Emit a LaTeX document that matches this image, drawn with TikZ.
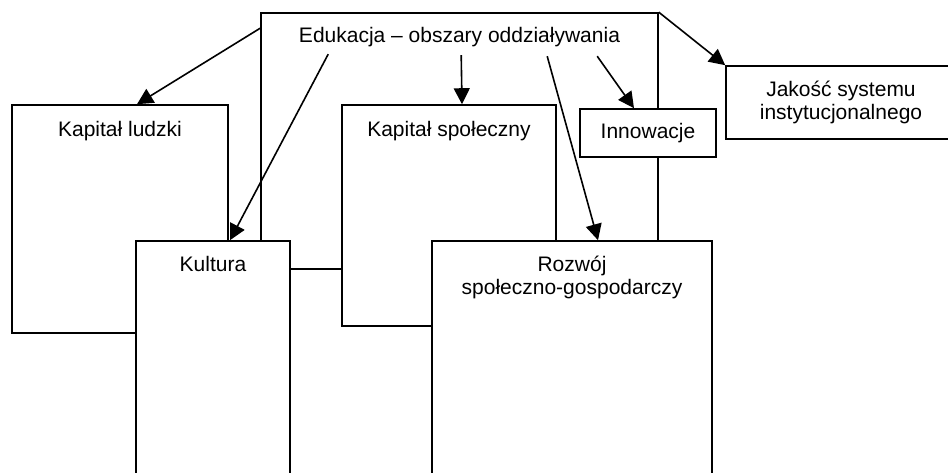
\documentclass[tikz,border=0pt]{standalone}
\usepackage{fontspec}
\setmainfont{Liberation Sans}
\usetikzlibrary{arrows.meta,calc}

\begin{document}
\begin{tikzpicture}[x=1pt,y=-1pt,
  box/.style={draw,line width=1.6pt,fill=white,inner sep=0pt,align=center},
  txt/.style={inner sep=0pt,anchor=north,align=center},
  pil/.style={line width=1.6pt,-{Triangle[length=16pt,width=16pt]}},
  font=\fontsize{21}{23}\selectfont]
  \clip (0,0) rectangle (948,472);
  \node[box,minimum width=397pt,minimum height=256pt] (edu) at (459.5,141) {};
  \node[box,minimum width=216pt,minimum height=228pt] (kl) at (120,219) {};
  \node[box,minimum width=214pt,minimum height=221pt] (ks) at (449,215.5) {};
  \node[box,minimum width=136pt,minimum height=48pt] (inn) at (648,133) {Innowacje};
  \node[box,minimum width=230pt,minimum height=73pt] (jak) at (841,102.5) {Jakość systemu\\instytucjonalnego};
  \node[box,minimum width=154pt,minimum height=279pt] (kul) at (213,380.5) {};
  \node[box,minimum width=280pt,minimum height=279pt] (roz) at (572,380.5) {};

  \node[txt] (edutxt) at ($(edu.north)+(0,15)$) {Edukacja – obszary oddziaływania};
  \node[txt] (kltxt) at ($(kl.north)+(0,17)$) {Kapitał ludzki};
  \node[txt] (kstxt) at ($(ks.north)+(0,17)$) {Kapitał społeczny};
  \node[txt] (kultxt) at ($(kul.north)+(0,16)$) {Kultura};
  \node[txt] (roztxt) at ($(roz.north)+(0,16)$) {Rozwój\\społeczno-gospodarczy};

  \draw[pil] ($(edu.north west)+(0,16)$) -- ($(kl.north)+(17,0)$);
  \draw[pil] ($(edu.north west)+(68,42)$) -- ($(kul.north)+(17,0)$);
  \draw[pil] ($(edu.north west)+(201,43)$) -- ($(ks.north)+(13,0)$);
  \draw[pil] ($(edu.north west)+(287,44)$) -- ($(roz.north)+(26,0)$);
  \draw[pil] ($(edu.north west)+(337,44)$) -- ($(inn.north)+(-14,0)$);
  \draw[pil] (edu.north east) -- (jak.north west);
\end{tikzpicture}
\end{document}
